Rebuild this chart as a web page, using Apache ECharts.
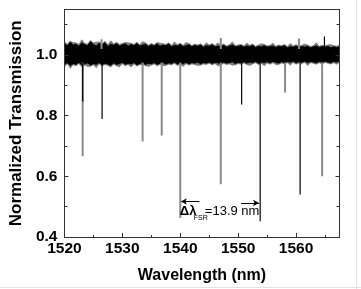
<!DOCTYPE html>
<html><head><meta charset="utf-8">
<script src="https://cdn.jsdelivr.net/npm/echarts@6/dist/echarts.min.js"></script>
<style>html,body{margin:0;padding:0;background:#fff}#c{width:361px;height:289px}</style>
</head><body><div id="c"></div>
<script>
// Wavelength grid of the transmission noise band (nm), step 0.5
var bandStart = 1520, bandStep = 0.5;
var blackHigh = [1.038,1.030,1.042,1.033,1.036,1.029,1.040,1.034,1.031,1.044,
1.035,1.030,1.039,1.033,1.041,1.028,1.036,1.032,1.038,1.030,
1.034,1.037,1.029,1.035,1.031,1.038,1.030,1.033,1.036,1.028,
1.034,1.030,1.037,1.029,1.033,1.031,1.036,1.027,1.032,1.030,
1.035,1.028,1.031,1.034,1.027,1.032,1.029,1.033,1.026,1.031,
1.029,1.034,1.027,1.030,1.028,1.032,1.026,1.030,1.033,1.027,
1.029,1.031,1.026,1.030,1.028,1.032,1.025,1.029,1.027,1.031,
1.026,1.028,1.030,1.025,1.029,1.027,1.031,1.024,1.028,1.026,
1.030,1.025,1.028,1.026,1.029,1.024,1.027,1.030,1.025,1.028,
1.026,1.029,1.024,1.027,1.025,1.028];
var blackLow = [0.965,0.972,0.962,0.969,0.966,0.973,0.963,0.968,0.971,0.964,
0.969,0.966,0.972,0.965,0.970,0.967,0.963,0.971,0.966,0.969,
0.973,0.966,0.970,0.967,0.972,0.965,0.969,0.971,0.966,0.970,
0.968,0.972,0.966,0.970,0.973,0.967,0.971,0.969,0.974,0.967,
0.971,0.969,0.973,0.968,0.972,0.970,0.974,0.968,0.972,0.970,
0.974,0.969,0.973,0.971,0.968,0.974,0.970,0.972,0.975,0.969,
0.973,0.971,0.975,0.970,0.974,0.972,0.976,0.970,0.974,0.972,
0.975,0.971,0.976,0.973,0.970,0.975,0.972,0.976,0.973,0.977,
0.971,0.975,0.973,0.977,0.972,0.976,0.974,0.971,0.976,0.973,
0.977,0.974,0.972,0.976,0.974,0.977];
var greyHigh = [1.043,1.036,1.046,1.041,1.040,1.035,1.050,1.038,1.036,1.048,
1.040,1.042,1.043,1.037,1.045,1.033,1.047,1.036,1.042,1.035,
1.038,1.041,1.040,1.039,1.035,1.042,1.034,1.044,1.040,1.032,
1.038,1.034,1.041,1.039,1.037,1.035,1.040,1.032,1.043,1.034,
1.039,1.032,1.041,1.038,1.031,1.036,1.033,1.037,1.030,1.040,
1.033,1.038,1.031,1.040,1.032,1.036,1.030,1.034,1.043,1.031,
1.033,1.035,1.030,1.039,1.032,1.036,1.029,1.033,1.037,1.035,
1.030,1.032,1.039,1.029,1.033,1.031,1.035,1.028,1.038,1.030,
1.034,1.029,1.032,1.036,1.033,1.028,1.031,1.040,1.029,1.032,
1.030,1.033,1.034,1.031,1.029,1.032];
var greyLow = [0.960,0.968,0.952,0.965,0.962,0.969,0.958,0.964,0.960,0.960,
0.965,0.955,0.968,0.961,0.966,0.963,0.958,0.967,0.962,0.958,
0.969,0.962,0.966,0.957,0.968,0.961,0.965,0.967,0.962,0.960,
0.964,0.968,0.962,0.966,0.962,0.963,0.967,0.965,0.970,0.963,
0.967,0.960,0.969,0.964,0.968,0.966,0.963,0.964,0.968,0.966,
0.970,0.965,0.969,0.962,0.964,0.970,0.966,0.968,0.964,0.965,
0.969,0.967,0.971,0.966,0.963,0.968,0.972,0.966,0.970,0.962,
0.971,0.967,0.972,0.966,0.966,0.971,0.968,0.972,0.964,0.973,
0.967,0.971,0.969,0.973,0.963,0.972,0.970,0.967,0.972,0.966,
0.973,0.970,0.968,0.972,0.967,0.973];
// Resonance dips: wavelength (nm) and minimum transmission
var blackDipX = [1523.15, 1526.5, 1550.6, 1553.8, 1560.7];
var blackDipY = [0.847, 0.789, 0.837, 0.452, 0.540];
var greyDipX = [1523.15, 1533.5, 1536.8, 1540.0, 1547.0, 1558.1, 1564.5];
var greyDipY = [0.666, 0.715, 0.735, 0.463, 0.574, 0.876, 0.600];
// Upward noise spikes
var greySpikeX = [1526.4, 1547.0, 1560.5];
var greySpikeY = [1.052, 1.056, 1.054];
var blackSpikeX = [1564.9];
var blackSpikeY = [1.061];
var dipTop = 0.975, spikeBase = 1.02;
// FSR annotation
var fsrLeft = [1543.3, 1540.1], fsrRight = [1550.5, 1553.6], fsrY = [0.517, 0.512];
var fsrLabel = ['Δλ', 'FSR', '=13.9 nm'];
var xTicks = {min: 1520, max: 1567.5, interval: 10};
var yTicks = {min: 0.4, max: 1.15, interval: 0.2};

function pts(arr) {
  return arr.map(function (v, i) { return [bandStart + i * bandStep, v]; });
}
function segs(xs, ys, from) {
  var d = [];
  xs.forEach(function (x, i) { d.push([x, from]); d.push([x, ys[i]]); d.push([x, '-']); });
  return d;
}
function band(arr, color, z) {
  return {type: 'line', data: pts(arr), showSymbol: false, z: z, silent: true,
    lineStyle: {width: 0.8, color: color}, areaStyle: {color: color, opacity: 1, origin: 'start'}};
}
var FONT = '"Liberation Sans", Arial, sans-serif';
var chart = echarts.init(document.getElementById('c'), null, {renderer: 'canvas'});
var axisLine = {show: true, lineStyle: {color: '#333', width: 1}};
var option = {
  animation: false,
  backgroundColor: '#fff',
  grid: {left: 58.5, right: 21.5, top: 9.5, bottom: 52},
  xAxis: [{
    type: 'value', min: xTicks.min, max: xTicks.max, interval: xTicks.interval, z: 10,
    axisLine: axisLine,
    axisTick: {show: true, inside: true, length: 4, lineStyle: {color: '#333'}},
    minorTick: {show: true, splitNumber: 2, length: 2, lineStyle: {color: '#333'}},
    splitLine: {show: false},
    axisLabel: {showMaxLabel: false, color: '#000', fontFamily: FONT, fontWeight: 'bold', fontSize: 15.5, margin: 4,
      formatter: function (v) { return String(v); }},
    name: 'Wavelength (nm)', nameLocation: 'middle', nameGap: 31,
    nameTextStyle: {color: '#000', fontFamily: FONT, fontWeight: 'bold', fontSize: 16}
  }, {
    type: 'value', position: 'top', min: xTicks.min, max: xTicks.max, interval: xTicks.interval, z: 10,
    axisLine: axisLine, axisTick: {show: false}, axisLabel: {show: false}, splitLine: {show: false}
  }],
  yAxis: [{
    type: 'value', min: yTicks.min, max: yTicks.max, interval: yTicks.interval, z: 10,
    axisLine: axisLine,
    axisTick: {show: true, inside: true, length: 4, lineStyle: {color: '#333'}},
    minorTick: {show: true, splitNumber: 2, length: 3, lineStyle: {color: '#333'}},
    splitLine: {show: false},
    axisLabel: {showMaxLabel: false, color: '#000', fontFamily: FONT, fontWeight: 'bold', fontSize: 15.5, margin: 7,
      formatter: function (v) { return v.toFixed(1); }},
    name: 'Normalized Transmission', nameLocation: 'middle', nameGap: 38.5,
    nameTextStyle: {color: '#000', fontFamily: FONT, fontWeight: 'bold', fontSize: 17}
  }, {
    type: 'value', position: 'right', min: yTicks.min, max: yTicks.max, interval: yTicks.interval, z: 10,
    axisLine: axisLine,
    axisTick: {show: true, inside: true, length: 4, lineStyle: {color: '#333'}},
    minorTick: {show: true, splitNumber: 2, length: 3, lineStyle: {color: '#333'}},
    splitLine: {show: false}, axisLabel: {show: false}
  }],
  series: [
    band(greyHigh, '#7a7a7a', 1),
    band(blackHigh, '#000', 2),
    band(blackLow, '#7a7a7a', 3),
    band(greyLow, '#fff', 4),
    {type: 'line', data: segs(greyDipX, greyDipY, dipTop).concat(segs(greySpikeX, greySpikeY, spikeBase)),
      showSymbol: false, connectNulls: false, lineStyle: {width: 2, color: '#8a8a8a'}, z: 5, silent: true},
    {type: 'line', data: segs(blackDipX, blackDipY, dipTop).concat(segs(blackSpikeX, blackSpikeY, spikeBase)),
      showSymbol: false, connectNulls: false, lineStyle: {width: 1.2, color: '#000'}, z: 6, silent: true,
      markLine: {silent: true, symbol: ['none', 'arrow'], symbolSize: [5, 6], label: {show: false},
        lineStyle: {color: '#000', width: 1, type: 'solid'},
        data: [[{coord: [fsrLeft[0], fsrY[0]]}, {coord: [fsrLeft[1], fsrY[0]]}],
               [{coord: [fsrRight[0], fsrY[1]]}, {coord: [fsrRight[1], fsrY[1]]}]]}}
  ]
};
chart.setOption(option);
var p = chart.convertToPixel({xAxisIndex: 0, yAxisIndex: 0}, [fsrLeft[1], 0.483]);
chart.setOption({graphic: [
  {type: 'text', left: p[0] - 1, top: p[1] - 7, z: 20, style: {text: fsrLabel[0], fill: '#000', font: 'bold 13px ' + FONT}},
  {type: 'text', left: p[0] + 13, top: p[1] + 3, z: 20, style: {text: fsrLabel[1], fill: '#000', font: '7px ' + FONT}},
  {type: 'text', left: p[0] + 24, top: p[1] - 7, z: 20, style: {text: fsrLabel[2], fill: '#000', font: '13px ' + FONT}},
  {type: 'line', z: 20, shape: {x1: 356.5, y1: 0, x2: 356.5, y2: 289}, style: {stroke: '#e2e2e2', lineWidth: 1}},
  {type: 'line', z: 20, shape: {x1: 0, y1: 287.5, x2: 361, y2: 287.5}, style: {stroke: '#e2e2e2', lineWidth: 1}}
]});
</script></body></html>
